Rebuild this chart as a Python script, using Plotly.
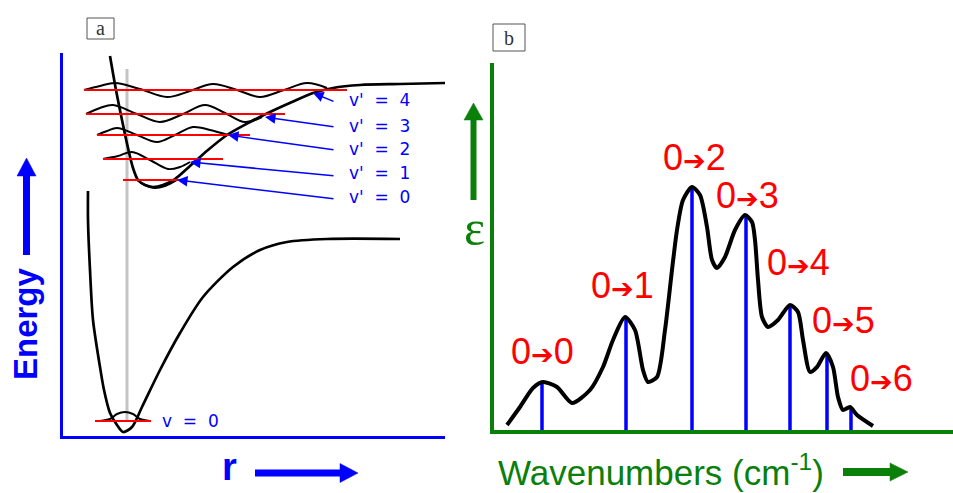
import math
import plotly.graph_objects as go

W, H = 953, 493

# ---------------- Panel a data (r units, energy units) ----------------
ground_r = [25, 25, 27, 30, 37, 41, 47, 54, 60, 69, 79, 97, 117, 140, 170, 197, 224, 264, 337]
ground_E = [245, 216, 166, 116, 69, 46, 23, 11, 4, 9, 29, 66, 103, 139, 169, 186, 194, 197, 197]

excited_r = [47, 53, 59, 65, 70, 75, 82, 90, 100, 112, 127, 145, 164, 187, 207, 229, 250, 270, 297, 337, 382]
excited_E = [380, 346, 316, 288, 268, 256, 251, 249, 251, 257, 270, 286, 301, 314, 324, 334, 343, 348, 351, 352, 353]

ground_level_E = 15
ground_level_r = [32, 88]
ground_wf_r = [37, 47, 54, 62, 70, 77, 87]
ground_wf_E = [15, 17, 22, 24, 22, 17, 15]

level_names = ["v' = 0", "v' = 1", "v' = 2", "v' = 3", "v' = 4"]
level_E = [256, 277, 301, 322, 346]
level_r0 = [60, 40, 34, 23, 21]
level_r1 = [122, 160, 187, 222, 284]

wf_r = [
    [74, 82, 92, 102, 114],
    [40, 55, 69, 87, 105, 117, 127],
    [34, 44, 54, 74, 94, 112, 130, 147, 165],
    [23, 37, 50, 74, 97, 120, 142, 162, 182, 199],
    [21, 37, 52, 77, 104, 127, 150, 174, 197, 221, 244, 264],
]
wf_E = [
    [256, 251, 248, 250, 256],
    [277, 280, 284, 276, 267, 269, 274],
    [301, 305, 308, 301, 294, 301, 309, 306, 301],
    [322, 328, 331, 322, 314, 322, 331, 323, 314, 319],
    [346, 350, 353, 347, 339, 345, 352, 346, 339, 346, 353, 348],
]

arrow_tip_r = [114, 127, 165, 202, 250]
arrow_tip_E = [256, 274, 301, 319, 343]
arrow_tail_r = [272, 272, 272, 272, 272]
arrow_tail_E = [237, 260, 286, 309, 334]
label_E = [239, 263, 287, 310, 336]
label_r = 284

franck_condon_r = 64
franck_condon_E = [15, 367]

# ---------------- Panel b data (wavenumber units, epsilon units) ----------------
transitions = ["0→0", "0→1", "0→2", "0→3", "0→4", "0→5", "0→6"]
stick_w = [48, 132, 198, 252, 296, 333, 357]
stick_eps = [47, 113, 243, 213, 125, 75, 21]
label_w = [48, 128, 200, 253, 304, 349, 387]
label_eps = [79, 145, 273, 235, 168, 110, 52]

env_w = [13, 26, 39, 49, 63, 78, 96, 109, 119, 131, 141, 149, 154, 163, 171, 178, 183,
         189, 198, 206, 213, 218, 223, 231, 241, 251, 258, 261, 264, 268, 274, 284, 296,
         304, 309, 316, 323, 332, 339, 344, 349, 356, 363, 379]
env_eps = [5, 23, 42, 48, 43, 27, 40, 63, 90, 113, 100, 60, 48, 53, 100, 160, 200,
           230, 243, 235, 203, 170, 162, 173, 200, 215, 208, 190, 150, 113, 103, 110, 125,
           118, 90, 58, 63, 77, 63, 33, 20, 23, 15, 4]

BLUE = "#0000ff"
GREEN = "#0a7f0a"
RED = "#ff0000"

fig = go.Figure()

# ---- panel a traces ----
fig.add_trace(go.Scatter(x=[franck_condon_r, franck_condon_r], y=franck_condon_E, mode="lines",
                         line=dict(color="#c4c4c4", width=3), xaxis="x", yaxis="y"))
fig.add_trace(go.Scatter(x=ground_r, y=ground_E, mode="lines", line=dict(color="black", width=2.7, shape="spline", smoothing=0.8),
                         xaxis="x", yaxis="y"))
fig.add_trace(go.Scatter(x=excited_r, y=excited_E, mode="lines", line=dict(color="black", width=2.7, shape="spline", smoothing=0.8),
                         xaxis="x", yaxis="y"))
fig.add_trace(go.Scatter(x=ground_wf_r, y=ground_wf_E, mode="lines", line=dict(color="black", width=2, shape="spline"),
                         xaxis="x", yaxis="y"))
for rr, ee in zip(wf_r, wf_E):
    fig.add_trace(go.Scatter(x=rr, y=ee, mode="lines", line=dict(color="black", width=2, shape="spline"),
                             xaxis="x", yaxis="y"))

lx, ly = [], []
for e, a, b in zip(level_E, level_r0, level_r1):
    lx += [a, b, None]
    ly += [e, e, None]
lx += [ground_level_r[0], ground_level_r[1]]
ly += [ground_level_E, ground_level_E]
fig.add_trace(go.Scatter(x=lx, y=ly, mode="lines", line=dict(color=RED, width=2), xaxis="x", yaxis="y"))

# ---- panel b traces ----
sx, sy = [], []
for w, e in zip(stick_w, stick_eps):
    sx += [w, w, None]
    sy += [0, e, None]
fig.add_trace(go.Scatter(x=sx, y=sy, mode="lines", line=dict(color=BLUE, width=3.5), xaxis="x2", yaxis="y2"))
fig.add_trace(go.Scatter(x=env_w, y=env_eps, mode="lines", line=dict(color="black", width=4, shape="spline", smoothing=0.7),
                         xaxis="x2", yaxis="y2"))


def X(px):
    return px / W


def Y(py):
    return 1 - py / H


ann = []
for tr, te, ar, ae in zip(arrow_tip_r, arrow_tip_E, arrow_tail_r, arrow_tail_E):
    ann.append(dict(x=tr, y=te, xref="x", yref="y", ax=ar, ay=ae, axref="x", ayref="y",
                    text="", showarrow=True, arrowhead=2, arrowsize=1.4, arrowwidth=1.5,
                    arrowcolor=BLUE, standoff=0))
for name, e in zip(level_names, label_E):
    ann.append(dict(x=label_r, y=e, xref="x", yref="y", text=name.replace(" ", "\u00a0\u00a0"),
                    showarrow=False, xanchor="left", yanchor="middle",
                    font=dict(family="DejaVu Sans", size=17, color=BLUE)))
ann.append(dict(x=97, y=ground_level_E, xref="x", yref="y", text="v\u00a0\u00a0=\u00a0\u00a00",
                showarrow=False, xanchor="left", yanchor="middle",
                font=dict(family="DejaVu Sans", size=17, color=BLUE)))
for t, w, e in zip(transitions, label_w, label_eps):
    a, b = t.split("→")
    txt = f"{a}<span style='font-size:27px'><b>➔</b></span>{b}"
    ann.append(dict(x=w, y=e, xref="x2", yref="y2", text=txt, showarrow=False,
                    xanchor="center", yanchor="middle",
                    font=dict(family="Liberation Sans, Arial, DejaVu Sans", size=36, color=RED)))

# axis titles / labels
ann.append(dict(x=X(25), y=Y(324), xref="paper", yref="paper", text="<b>Energy</b>", textangle=-90,
                xanchor="center", yanchor="middle",
                showarrow=False, font=dict(family="Liberation Sans, Arial", size=33, color=BLUE)))
ann.append(dict(x=X(229), y=Y(467), xref="paper", yref="paper", text="<b>r</b>",
                xanchor="center", yanchor="middle",
                showarrow=False, font=dict(family="Liberation Sans, Arial", size=38, color=BLUE)))
ann.append(dict(x=X(474), y=Y(228), xref="paper", yref="paper", text="ε",
                xanchor="center", yanchor="middle",
                showarrow=False, font=dict(family="Liberation Serif, DejaVu Serif", size=50, color=GREEN)))
ann.append(dict(x=X(496), y=Y(470), xref="paper", yref="paper", text="Wavenumbers (cm<sup>-1</sup>)",
                xanchor="left", yanchor="middle", showarrow=False,
                font=dict(family="Liberation Sans, Arial", size=35, color=GREEN)))
ann.append(dict(x=X(100.5), y=Y(28.5), xref="paper", yref="paper", text="a", showarrow=False,
                xanchor="center", yanchor="middle",
                font=dict(family="Liberation Serif", size=20, color="#333333")))
ann.append(dict(x=X(509), y=Y(37.5), xref="paper", yref="paper", text="b", showarrow=False,
                xanchor="center", yanchor="middle",
                font=dict(family="Liberation Serif", size=20, color="#333333")))

shapes = []


def big_arrow(x0, y0, x1, y1, color, shaft, head_len, head_half):
    # arrow from (x0,y0) to tip (x1,y1), given in pixels
    dx, dy = x1 - x0, y1 - y0
    L = math.hypot(dx, dy)
    ux, uy = dx / L, dy / L
    bx, by = x1 - ux * head_len, y1 - uy * head_len
    nx, ny = -uy, ux
    shapes.append(dict(type="line", xref="paper", yref="paper", x0=X(x0), y0=Y(y0), x1=X(bx + ux), y1=Y(by + uy),
                       line=dict(color=color, width=shaft)))
    p = (f"M {X(x1)},{Y(y1)} L {X(bx + nx * head_half)},{Y(by + ny * head_half)} "
         f"L {X(bx - nx * head_half)},{Y(by - ny * head_half)} Z")
    shapes.append(dict(type="path", xref="paper", yref="paper", path=p, fillcolor=color, line=dict(color=color, width=0.5)))


big_arrow(26.5, 255, 26.5, 158, BLUE, 7, 18, 9.5)
big_arrow(255, 473, 358, 473, BLUE, 7, 18, 9.5)
big_arrow(473.5, 200, 473.5, 103, GREEN, 6, 17, 9.5)
big_arrow(843, 472, 908, 472, GREEN, 8, 18, 9)

shapes.append(dict(type="rect", xref="paper", yref="paper", x0=X(87), x1=X(114), y0=Y(39), y1=Y(18),
                   line=dict(color="#555555", width=1)))
shapes.append(dict(type="rect", xref="paper", yref="paper", x0=X(493), x1=X(525), y0=Y(51), y1=Y(24),
                   line=dict(color="#555555", width=1)))

ax_common = dict(showgrid=False, zeroline=False, showticklabels=False, ticks="", showline=True, fixedrange=True)

fig.update_layout(
    width=W, height=H, margin=dict(l=0, r=0, t=0, b=0),
    paper_bgcolor="white", plot_bgcolor="white", showlegend=False,
    xaxis=dict(domain=[X(63), X(445)], range=[0, 382], anchor="y", linecolor=BLUE, linewidth=3, **ax_common),
    yaxis=dict(domain=[Y(436), Y(53)], range=[0, 383], anchor="x", linecolor=BLUE, linewidth=3, **ax_common),
    xaxis2=dict(domain=[X(494), 1.0], range=[0, 459], anchor="y2", linecolor=GREEN, linewidth=3.5, **ax_common),
    yaxis2=dict(domain=[Y(430), Y(63)], range=[0, 367], anchor="x2", linecolor=GREEN, linewidth=3.5, **ax_common),
    annotations=ann, shapes=shapes,
)

fig.write_html("out.html")
